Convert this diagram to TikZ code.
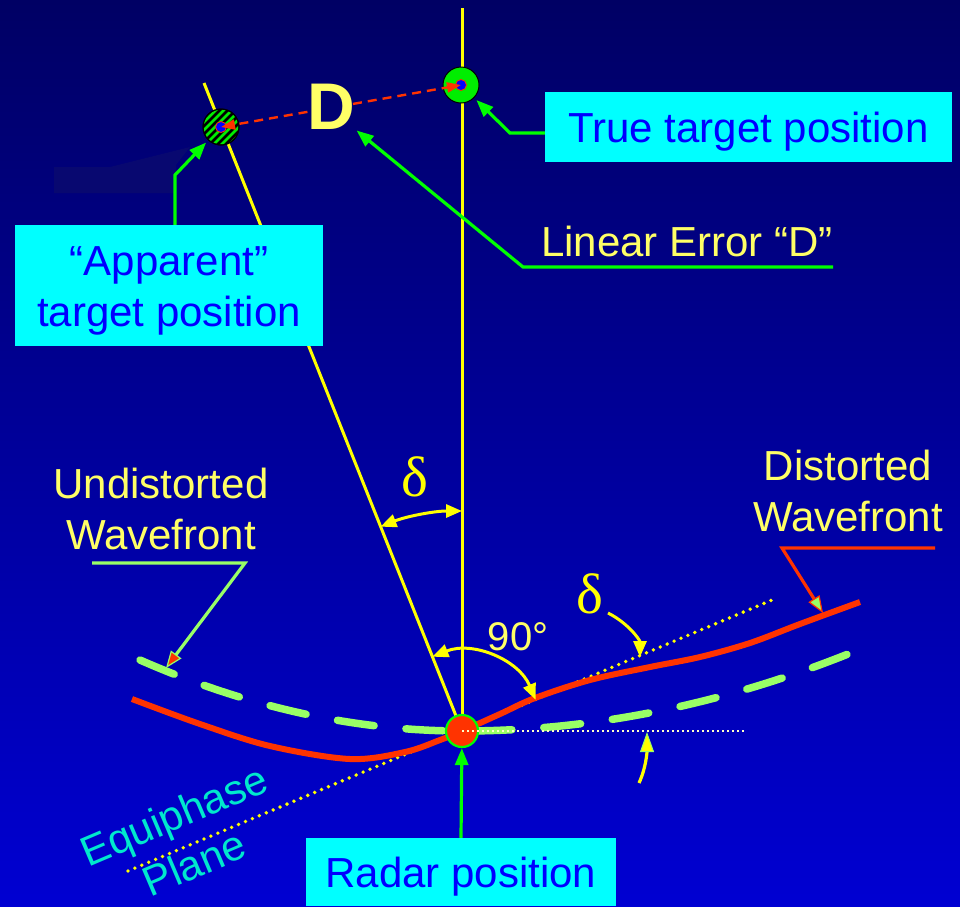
\documentclass[tikz,border=0pt]{standalone}
\usepackage{fontspec}
\setmainfont{Liberation Sans}
\newfontfamily\seriffont{Liberation Serif}
\usetikzlibrary{arrows.meta,calc}
\definecolor{bgtop}{RGB}{0,0,100}
\definecolor{bgbot}{RGB}{0,0,210}
\definecolor{artif}{RGB}{8,8,112}
\definecolor{ylw}{RGB}{255,255,0}
\definecolor{txtylw}{RGB}{255,255,102}
\definecolor{grn}{RGB}{0,255,0}
\definecolor{tgrn}{RGB}{0,238,0}
\definecolor{lgrn}{RGB}{153,255,102}
\definecolor{rd}{RGB}{255,51,0}
\definecolor{cyanbox}{RGB}{0,255,255}
\definecolor{bluetxt}{RGB}{0,0,255}
\definecolor{tealtxt}{RGB}{0,232,205}
\definecolor{dotw}{RGB}{255,255,200}
\begin{document}
\begin{tikzpicture}[x=1pt,y=-1pt,
  boxnode/.style={fill=cyanbox, text=bluetxt, font=\fontsize{42}{51}\selectfont, align=center, inner sep=0pt, text height=30pt, text depth=0pt},
  lbl/.style={text=txtylw, font=\fontsize{42}{51}\selectfont, align=center, inner sep=0pt, text height=81pt, text depth=0pt},
  garrow/.style={draw=grn, line width=3.2pt, -{Triangle[length=17pt,width=13pt]}},
  yarc/.style={draw=ylw, line width=3pt},
  ytip/.style={-{Triangle[length=16pt,width=13pt]}},
  target/.style={circle, minimum size=36pt, inner sep=0pt, fill=tgrn, draw=black, line width=1pt},
  dline/.style={draw=rd, line width=2.4pt, dash pattern=on 9pt off 6pt, -{Triangle[length=14pt,width=10pt]}}
]
\useasboundingbox (0,0) rectangle (960,906);
\shade[top color=bgtop, bottom color=bgbot] (0,0) rectangle (960,906);
\fill[artif] (54,167) -- (110,167) -- (190,147) -- (176,165) -- (176,193) -- (54,193) -- cycle;

% key points
\coordinate (radar) at (462,731);
\coordinate (vtop) at (462,8);
\coordinate (stop) at (204,83);
\coordinate (eqA) at (128,871);
\coordinate (eqB) at (772,600);
\coordinate (hEnd) at (745,731);

% sight lines
\draw[ylw, line width=3pt] (vtop) -- (radar);
\draw[ylw, line width=3pt] (stop) -- (radar);

% equiphase plane
\draw[ylw, line width=3.8pt, line cap=round, dash pattern=on 0pt off 7.5pt] (eqA) -- (eqB);

% undistorted wavefront
\draw[lgrn, line width=7.5pt, line cap=round, dash pattern=on 37pt off 32pt]
  (140,660) .. controls (247,707) and (355,731) .. (radar)
  .. controls (594,731) and (726,704) .. (858,650);

% distorted wavefront
\draw[rd, line width=6pt] plot[smooth, tension=0.55] coordinates {
  (132,699) (200,724) (270,746) (350,759) (405,752) (440,740) (462,731)
  (500,714) (535,698) (590,680) (650,667) (700,657) (750,643) (800,624) (860,602)};

% radar
\node[circle, minimum size=32pt, inner sep=0pt, fill=rd, draw=grn, line width=2.2pt] (radarnode) at (radar) {};
\draw[dotw, line width=2pt, dash pattern=on 2pt off 3pt] (radar) -- (hEnd);

% angle arcs
\draw[yarc, {Triangle[length=16pt,width=13pt]}-{Triangle[length=16pt,width=13pt]}]
  ($(radar)+(-90:220)$) arc[start angle=-90, end angle=-111.75, radius=220];
\draw[yarc, {Triangle[length=16pt,width=13pt]}-{Triangle[length=16pt,width=13pt]}]
  ($(radar)+(-111.75:80)$) arc[start angle=-111.75, end angle=-23, radius=80];
\coordinate (d2s) at (608,613);
\coordinate (d2e) at (640,657);
\draw[yarc, ytip] (d2s) .. controls (628,623) and (640,640) .. (d2e);
\coordinate (brs) at (639,783);
\coordinate (bre) at (647,732);
\draw[yarc, line width=3.2pt, -{Triangle[length=20pt,width=14pt,color=lgrn,fill=ylw,line width=1pt]}]
  (brs) .. controls (646,768) and (647,752) .. (bre);

% targets
\node[target] (tgtT) at (461,85) {};
\node[target] (tgtA) at (221,127) {};
\begin{scope}
  \clip (tgtA) circle (18pt);
  \foreach \k in {-42,-34,...,42}
    \draw[black, line width=2.5pt] ($(tgtA)+(\k-30,30)$) -- ($(tgtA)+(\k+30,-30)$);
\end{scope}
\draw[black, line width=1pt] (tgtA) circle (18pt);
\filldraw[fill=blue, draw=rd, line width=0.8pt] (tgtT) circle (5.5pt);
\filldraw[fill=blue, draw=rd, line width=0.8pt] (tgtA) circle (5.5pt);

% D label and dashed error line
\node[text=txtylw, font=\bfseries\fontsize{66}{66}\selectfont, anchor=base, inner sep=0pt] (D) at (331,129) {D};
\draw[dline] ($(tgtA)!0.36!(tgtT)$) -- (tgtA.center);
\draw[dline] ($(tgtA)!0.55!(tgtT)$) -- (tgtT.center);

% boxes
\node[boxnode, minimum width=407pt, minimum height=70pt] (truebox) at (748.5,127) {True target position};
\node[boxnode, minimum width=308pt, minimum height=121pt, text height=81pt] (appbox) at (169,285.5) {“Apparent”\\target position};
\node[boxnode, minimum width=310pt, minimum height=68pt] (radarbox) at (461,872) {Radar position};

% green pointers
\coordinate (tb1) at (510,133);
\draw[garrow, shorten >=3pt] (truebox.west |- tb1) -- (tb1) -- (tgtT);
\coordinate (ab1) at (175,175);
\draw[garrow, shorten >=3pt] (appbox.north -| ab1) -- (ab1) -- (tgtA);
\coordinate (le1) at (523,267);
\coordinate (le2) at (833,267);
\draw[garrow, shorten >=2pt] (le2) -- (le1) -- (D.south east);
\draw[garrow] (radarbox.north) -- (radarnode);

% wavefront pointers
\coordinate (u1) at (92,563);
\coordinate (u2) at (245,563);
\coordinate (utip) at (166,668);
\draw[draw=lgrn, line width=3.2pt, -{Triangle[length=17pt,width=13pt,fill=rd,line width=1.2pt]}] (u1) -- (u2) -- (utip);
\coordinate (dd1) at (935,548);
\coordinate (dd2) at (782,548);
\coordinate (dtip) at (823,613);
\draw[draw=rd, line width=3.2pt, -{Triangle[length=17pt,width=13pt,fill=lgrn,line width=1.2pt]}] (dd1) -- (dd2) -- (dtip);

% labels
\node[lbl, anchor=base west, text height=, text depth=] (le) at (541,256) {Linear Error “D”};
\node[lbl] (undist) at (161,509) {Undistorted\\Wavefront};
\node[lbl] (dist) at (848,491) {Distorted\\Wavefront};
\node[text=txtylw, font=\fontsize{40}{40}\selectfont, anchor=base, inner sep=0pt] (ninety) at (518,650) {90°};
\node[text=ylw, font=\seriffont\fontsize{57}{57}\selectfont, anchor=base, inner sep=0pt] (del1) at (415,496) {δ};
\node[text=ylw, font=\seriffont\fontsize{57}{57}\selectfont, anchor=base, inner sep=0pt] (del2) at (590,613) {δ};
\node[text=tealtxt, font=\fontsize{42}{52}\selectfont, align=center, rotate=23, text height=82pt, text depth=0pt, inner sep=0pt] (equi) at (184,839) {Equiphase\\Plane};
\end{tikzpicture}
\end{document}
